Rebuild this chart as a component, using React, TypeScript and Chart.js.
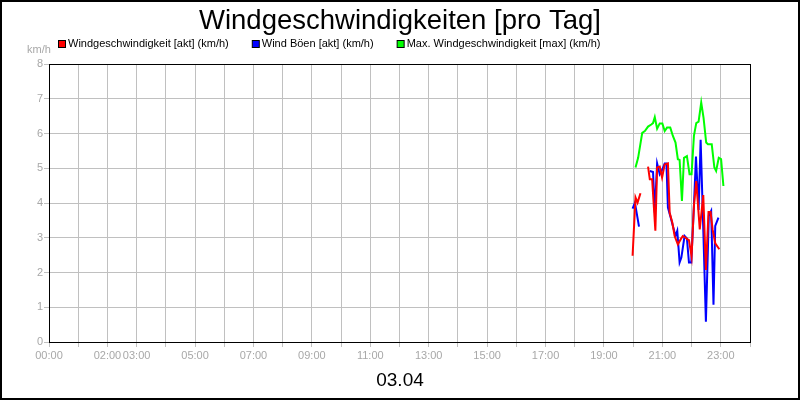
import { Chart, registerables } from "chart.js";
import { useEffect, useRef } from "react";

Chart.register(...registerables);

// hours of the day (decimal) and km/h values; null = gap
const aktHours = [19.98, 20.08, 20.15, 20.25, 20.38, 20.51, 20.57, 20.65, 20.76, 20.82, 20.91, 20.99, 21.08, 21.19, 21.25, 21.34, 21.42, 21.53, 21.63, 21.7, 21.8, 21.85, 21.91, 22.0, 22.08, 22.16, 22.28, 22.4, 22.49, 22.58, 22.65, 22.72, 22.81, 22.95];
const aktValues = [2.48, 4.16, 4.01, 4.28, null, 5.05, 4.68, 4.68, 3.2, 5.02, 5.05, 4.73, 5.11, 5.14, 3.72, 3.44, 3.05, 2.81, 2.96, 3.05, 3.0, 2.96, 2.93, 2.46, 3.92, 4.63, 3.24, 4.23, 2.07, 3.74, 3.74, 3.24, 2.84, 2.67];

const boeenHours = [19.98, 20.06, 20.2, 20.38, 20.57, 20.68, 20.74, 20.82, 20.91, 21.0, 21.08, 21.14, 21.19, 21.27, 21.36, 21.45, 21.51, 21.59, 21.65, 21.76, 21.84, 21.91, 21.99, 22.08, 22.15, 22.24, 22.31, 22.41, 22.49, 22.59, 22.67, 22.75, 22.81, 22.92];
const boeenValues = [3.84, 4.01, 3.32, null, 4.92, 4.89, 3.72, 5.14, 4.83, 4.97, 5.14, 5.14, 3.87, 3.63, 3.34, 3.05, 3.2, 2.29, 2.43, 3.05, 2.98, 2.29, 2.29, 3.92, 5.34, 3.8, 5.82, 2.96, 0.58, 3.63, 3.77, 1.07, 3.34, 3.58];

const maxHours = [20.08, 20.17, 20.31, 20.4, 20.51, 20.62, 20.68, 20.74, 20.82, 20.91, 21.0, 21.08, 21.16, 21.27, 21.36, 21.45, 21.53, 21.59, 21.67, 21.74, 21.84, 21.93, 22.0, 22.08, 22.16, 22.24, 22.33, 22.41, 22.5, 22.56, 22.69, 22.78, 22.84, 22.93, 23.01, 23.09];
const maxValues = [5.02, 5.3, 6.02, 6.07, 6.2, 6.26, 6.3, 6.47, 6.14, 6.29, 6.29, 6.07, 6.17, 6.17, 5.93, 5.74, 5.26, 5.24, 4.06, 5.3, 5.35, 4.83, 4.83, 5.93, 6.3, 6.34, 6.89, 6.45, 5.74, 5.69, 5.69, 5.02, 4.92, 5.3, 5.26, 4.49];

const seriesLabels = [
  "Windgeschwindigkeit [akt] (km/h)",
  "Wind Böen [akt] (km/h)",
  "Max. Windgeschwindigkeit [max] (km/h)",
];
const seriesColors = ["#ff0000", "#0000ff", "#00ff00"];
const labelledHours = [0, 2, 3, 5, 7, 9, 11, 13, 15, 17, 19, 21, 23];

const title = "Windgeschwindigkeiten [pro Tag]";
const dateLabel = "03.04";
const unitLabel = "km/h";

const FONT = "'Liberation Sans', Arial, sans-serif";
const GREY = "#a8a8a8";

const toPoints = (hours: number[], values: (number | null)[]) =>
  hours.map((h, i) => ({ x: h, y: values[i] }));

const decorations = {
  id: "decorations",
  beforeDraw(chart: any) {
    const ctx = chart.ctx;
    ctx.save();
    ctx.fillStyle = "#fff";
    ctx.fillRect(0, 0, chart.width, chart.height);
    ctx.restore();
  },
  beforeDatasetsDraw(chart: any) {
    const { ctx, chartArea } = chart;
    ctx.save();
    ctx.strokeStyle = "#000";
    ctx.lineWidth = 1;
    ctx.strokeRect(
      Math.round(chartArea.left) + 0.5,
      Math.round(chartArea.top) + 0.5,
      Math.round(chartArea.right - chartArea.left),
      Math.round(chartArea.bottom - chartArea.top)
    );
    ctx.restore();
  },
  afterDraw(chart: any) {
    const ctx = chart.ctx;
    ctx.save();

    // outer frame
    ctx.strokeStyle = "#000";
    ctx.lineWidth = 2;
    ctx.strokeRect(1, 1, chart.width - 2, chart.height - 2);

    // title
    ctx.fillStyle = "#000";
    ctx.font = `27.5px ${FONT}`;
    ctx.textAlign = "center";
    ctx.textBaseline = "alphabetic";
    ctx.fillText(title, 400, 29);

    // date below x axis
    ctx.font = `19px ${FONT}`;
    ctx.textBaseline = "middle";
    ctx.fillText(dateLabel, 400, 381);

    // unit above y axis
    ctx.fillStyle = GREY;
    ctx.font = `11px ${FONT}`;
    ctx.textAlign = "left";
    ctx.fillText(unitLabel, 27, 50);

    // legend
    let x = 58;
    chart.data.datasets.forEach((ds: any) => {
      ctx.fillStyle = ds.borderColor;
      ctx.fillRect(x + 0.5, 40.5, 7, 7);
      ctx.strokeStyle = "#000";
      ctx.lineWidth = 1;
      ctx.strokeRect(x + 0.5, 40.5, 7, 7);
      ctx.fillStyle = "#000";
      ctx.fillText(ds.label, x + 10, 44);
      x += 10 + ctx.measureText(ds.label).width + 23;
    });

    ctx.restore();
  },
};

const App = () => {
  const canvasRef = useRef<HTMLCanvasElement | null>(null);
  const chartRef = useRef<Chart | null>(null);

  useEffect(() => {
    document.body.style.margin = "0";
    if (chartRef.current) chartRef.current.destroy();
    if (!canvasRef.current) return;

    const seriesData = [
      toPoints(aktHours, aktValues),
      toPoints(boeenHours, boeenValues),
      toPoints(maxHours, maxValues),
    ];

    chartRef.current = new Chart(canvasRef.current, {
      type: "line",
      data: {
        datasets: seriesData.map((d, i) => ({
          label: seriesLabels[i],
          data: d,
          borderColor: seriesColors[i],
          backgroundColor: seriesColors[i],
          borderWidth: 2,
          pointRadius: 0,
          tension: 0,
          spanGaps: false,
        })),
      },
      options: {
        responsive: false,
        animation: false,
        devicePixelRatio: 1,
        layout: { padding: { top: 64, right: 50, bottom: 0, left: 0 } },
        plugins: {
          legend: { display: false },
          title: { display: false },
          tooltip: { enabled: false },
        },
        scales: {
          x: {
            type: "linear",
            min: 0,
            max: 24,
            afterFit: (s: any) => {
              s.height = 58;
            },
            border: { display: false },
            grid: { color: "#c0c0c0", tickColor: "#c0c0c0", tickLength: 5 },
            ticks: {
              stepSize: 1,
              autoSkip: false,
              maxRotation: 0,
              padding: 2,
              color: GREY,
              font: { family: FONT, size: 11 },
              callback: (v: any) =>
                labelledHours.includes(Number(v))
                  ? `${String(v).padStart(2, "0")}:00`
                  : "",
            },
          },
          y: {
            min: 0,
            max: 8,
            afterFit: (s: any) => {
              s.width = 49;
            },
            border: { display: false },
            grid: { color: "#c0c0c0", tickColor: "#c0c0c0", tickLength: 5 },
            ticks: {
              stepSize: 1,
              padding: 1,
              color: GREY,
              font: { family: FONT, size: 11 },
            },
          },
        },
      },
      plugins: [decorations],
    });

    return () => {
      if (chartRef.current) {
        chartRef.current.destroy();
        chartRef.current = null;
      }
    };
  }, []);

  return (
    <div style={{ position: "fixed", left: 0, top: 0, width: 800, height: 400 }}>
      <canvas ref={canvasRef} width={800} height={400} />
    </div>
  );
};

export default App;
